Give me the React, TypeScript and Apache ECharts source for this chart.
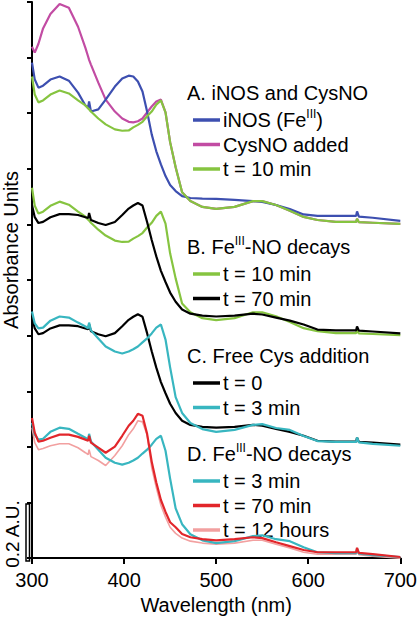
import React, { useEffect, useRef } from "react";
import * as echarts from "echarts";

const WAVELENGTHS = [
  300, 303, 307, 312, 320, 330, 340, 350, 358, 361, 362, 364, 372, 380, 390,
  398, 405, 410, 415, 420, 425, 430, 435, 440, 445, 450, 456, 463, 472, 485,
  500, 520, 540, 550, 565, 580, 595, 610, 630, 650, 652, 653, 655, 670, 700,
];

// Absorbance (A.U.) relative to each panel's own baseline
const INOS_FE3 = [
  0.582, 0.521, 0.492, 0.499, 0.521, 0.532, 0.517, 0.474, 0.428, 0.421, 0.442,
  0.406, 0.414, 0.449, 0.496, 0.525, 0.535, 0.532, 0.514, 0.478, 0.406, 0.324,
  0.263, 0.216, 0.174, 0.142, 0.12, 0.102, 0.095, 0.093, 0.092, 0.088, 0.084,
  0.081, 0.07, 0.055, 0.036, 0.031, 0.031, 0.031, 0.031, 0.047, 0.028, 0.024, 0.013,
];
const CYSNO_ADDED = [
  0.639, 0.618, 0.65, 0.705, 0.757, 0.793, 0.779, 0.711, 0.635, 0.603, 0.592,
  0.575, 0.51, 0.449, 0.406, 0.381, 0.369, 0.367, 0.371, 0.381, 0.403, 0.424,
  0.442, 0.449, 0.403, 0.296, 0.206, 0.116, 0.084, 0.063, 0.056, 0.063, 0.084,
  0.084, 0.07, 0.049, 0.027, 0.016, 0.009, 0.009, 0.009, 0.02, 0.008, 0.006, 0.002,
];
const T10_MIN = [
  0.532, 0.467, 0.439, 0.446, 0.467, 0.482, 0.471, 0.446, 0.428, 0.417, 0.414,
  0.406, 0.381, 0.36, 0.342, 0.337, 0.338, 0.349, 0.358, 0.369, 0.389, 0.406,
  0.431, 0.446, 0.403, 0.296, 0.206, 0.116, 0.084, 0.063, 0.056, 0.063, 0.084,
  0.084, 0.07, 0.049, 0.027, 0.016, 0.009, 0.009, 0.009, 0.02, 0.008, 0.006, 0.002,
];
const T70_MIN_BLACK = [
  0.469, 0.426, 0.405, 0.409, 0.426, 0.437, 0.437, 0.434, 0.426, 0.423, 0.441,
  0.416, 0.405, 0.398, 0.409, 0.434, 0.457, 0.468, 0.477, 0.468, 0.409, 0.344,
  0.285, 0.233, 0.193, 0.155, 0.122, 0.094, 0.079, 0.072, 0.069, 0.072, 0.079,
  0.076, 0.065, 0.054, 0.04, 0.022, 0.019, 0.019, 0.019, 0.033, 0.018, 0.015, 0.008,
];
const T3_MIN = [
  0.487, 0.444, 0.426, 0.429, 0.454, 0.469, 0.465, 0.447, 0.433, 0.426, 0.447,
  0.419, 0.39, 0.361, 0.343, 0.336, 0.343, 0.351, 0.361, 0.376, 0.39, 0.408,
  0.429, 0.44, 0.386, 0.286, 0.179, 0.122, 0.086, 0.064, 0.054, 0.061, 0.079,
  0.082, 0.068, 0.061, 0.039, 0.021, 0.018, 0.018, 0.018, 0.034, 0.016, 0.011, 0.004,
];
const T70_MIN_RED = [
  0.504, 0.451, 0.419, 0.422, 0.433, 0.444, 0.444, 0.436, 0.426, 0.422, 0.44,
  0.415, 0.397, 0.379, 0.401, 0.44, 0.476, 0.494, 0.519, 0.512, 0.447, 0.347,
  0.272, 0.209, 0.166, 0.129, 0.111, 0.087, 0.075, 0.068, 0.064, 0.068, 0.075,
  0.072, 0.057, 0.043, 0.029, 0.021, 0.021, 0.021, 0.021, 0.037, 0.019, 0.014, 0.004,
];
const T12_HOURS = [
  0.469, 0.415, 0.39, 0.394, 0.404, 0.411, 0.411, 0.397, 0.379, 0.372, 0.39,
  0.365, 0.351, 0.333, 0.369, 0.404, 0.444, 0.465, 0.494, 0.49, 0.444, 0.326,
  0.254, 0.19, 0.147, 0.111, 0.089, 0.072, 0.061, 0.054, 0.05, 0.054, 0.064,
  0.064, 0.05, 0.036, 0.021, 0.014, 0.014, 0.014, 0.014, 0.027, 0.012, 0.007, 0.0,
];

// Vertical offsets of the stacked panels (A.U.)
const PANEL_OFFSETS = { A: 1.2, B: 0.8, C: 0.4, D: 0 };

const X_TICKS = { min: 300, max: 700, interval: 100 };
const Y_TICKS = { min: 0, max: 2, interval: 0.2 };

const COLORS = {
  blue: "#3d4fb0",
  magenta: "#c24ca3",
  green: "#86c440",
  black: "#000000",
  cyan: "#38b6c0",
  red: "#e2262b",
  pink: "#f2a0a0",
};

const SERIES_DEFS = [
  { name: "CysNO added", values: CYSNO_ADDED, offset: PANEL_OFFSETS.A, color: COLORS.magenta, width: 2.2 },
  { name: "iNOS (FeIII)", values: INOS_FE3, offset: PANEL_OFFSETS.A, color: COLORS.blue, width: 2.2 },
  { name: "A: t = 10 min", values: T10_MIN, offset: PANEL_OFFSETS.A, color: COLORS.green, width: 2.2 },
  { name: "B: t = 10 min", values: T10_MIN, offset: PANEL_OFFSETS.B, color: COLORS.green, width: 2.2 },
  { name: "B: t = 70 min", values: T70_MIN_BLACK, offset: PANEL_OFFSETS.B, color: COLORS.black, width: 2.2 },
  { name: "C: t = 0", values: T70_MIN_BLACK, offset: PANEL_OFFSETS.C, color: COLORS.black, width: 2.2 },
  { name: "C: t = 3 min", values: T3_MIN, offset: PANEL_OFFSETS.C, color: COLORS.cyan, width: 2.2 },
  { name: "D: t = 12 hours", values: T12_HOURS, offset: PANEL_OFFSETS.D, color: COLORS.pink, width: 1.6 },
  { name: "D: t = 3 min", values: T3_MIN, offset: PANEL_OFFSETS.D, color: COLORS.cyan, width: 2.2 },
  { name: "D: t = 70 min", values: T70_MIN_RED, offset: PANEL_OFFSETS.D, color: COLORS.red, width: 2.2 },
];

// Legend groups (rich text markup: {t|normal} {s|superscript})
const LEGEND_GROUPS = [
  {
    title: "{t|A. iNOS and CysNO}",
    items: [
      { label: "{t|iNOS (Fe}{s|III}{t|)}", color: COLORS.blue },
      { label: "{t|CysNO added}", color: COLORS.magenta },
      { label: "{t|t = 10 min}", color: COLORS.green },
    ],
  },
  {
    title: "{t|B. Fe}{s|III}{t|-NO decays}",
    items: [
      { label: "{t|t = 10 min}", color: COLORS.green },
      { label: "{t|t = 70 min}", color: COLORS.black },
    ],
  },
  {
    title: "{t|C. Free Cys addition}",
    items: [
      { label: "{t|t = 0}", color: COLORS.black },
      { label: "{t|t = 3 min}", color: COLORS.cyan },
    ],
  },
  {
    title: "{t|D. Fe}{s|III}{t|-NO decays}",
    items: [
      { label: "{t|t = 3 min}", color: COLORS.cyan },
      { label: "{t|t = 70 min}", color: COLORS.red },
      { label: "{t|t = 12 hours}", color: COLORS.pink },
    ],
  },
];

const FONT = "'Liberation Sans', Arial, Helvetica, sans-serif";

// layout (pixels)
const LEGEND_TITLE_Y = [93, 247, 356, 454];
const LEGEND_ROW = 24.5;
const LEGEND_TITLE_GAP = 27;

function buildGraphic() {
  const rich = {
    t: { fontSize: 20, fontFamily: FONT, fill: "#000", lineHeight: 24 },
    s: { fontSize: 12, fontFamily: FONT, fill: "#000", lineHeight: 14, verticalAlign: "top" },
  };
  const els: any[] = [];
  LEGEND_GROUPS.forEach((g, gi) => {
    const y0 = LEGEND_TITLE_Y[gi];
    els.push({
      type: "text",
      x: 187,
      y: y0,
      style: { text: g.title, rich, align: "left", verticalAlign: "middle", fill: "#000" },
    });
    g.items.forEach((it, ii) => {
      const y = y0 + LEGEND_TITLE_GAP + ii * LEGEND_ROW;
      els.push({
        type: "line",
        shape: { x1: 193, y1: y, x2: 220, y2: y },
        style: { stroke: it.color, lineWidth: 3.5 },
      });
      els.push({
        type: "text",
        x: 223,
        y: y,
        style: { text: it.label, rich, align: "left", verticalAlign: "middle", fill: "#000" },
      });
    });
  });
  els.push({
    type: "text",
    x: 11,
    y: 250,
    rotation: Math.PI / 2,
    style: {
      text: "Absorbance Units",
      fontSize: 20,
      fontFamily: FONT,
      fill: "#000",
      align: "center",
      verticalAlign: "middle",
    },
  });
  els.push({
    type: "text",
    x: 12.5,
    y: 534,
    rotation: Math.PI / 2,
    style: {
      text: "0.2 A.U.",
      fontSize: 19,
      fontFamily: FONT,
      fill: "#000",
      align: "center",
      verticalAlign: "middle",
    },
  });
  els.push({
    type: "rect",
    shape: { x: 26, y: 504, width: 3.5, height: 57 },
    style: { fill: "none", stroke: "#000", lineWidth: 1.5 },
  });
  return els;
}

export default function App() {
  const ref = useRef<HTMLDivElement>(null);
  useEffect(() => {
    if (!ref.current) return;
    const chart = echarts.init(ref.current, undefined, { renderer: "svg" });
    chart.setOption({
      animation: false,
      backgroundColor: "#fff",
      grid: { left: 32, right: 17, top: 2, bottom: 59 },
      xAxis: {
        type: "value",
        min: X_TICKS.min,
        max: X_TICKS.max,
        interval: X_TICKS.interval,
        name: "Wavelength (nm)",
        nameLocation: "middle",
        nameGap: 33,
        nameTextStyle: { fontSize: 20, fontFamily: FONT, color: "#000" },
        axisLine: { onZero: false, lineStyle: { color: "#000", width: 2 } },
        axisTick: { length: 6, lineStyle: { color: "#000", width: 2 } },
        axisLabel: { fontSize: 20, fontFamily: FONT, color: "#000", margin: 12 },
        splitLine: { show: false },
      },
      yAxis: {
        type: "value",
        min: Y_TICKS.min,
        max: Y_TICKS.max,
        interval: Y_TICKS.interval,
        axisLine: { show: true, onZero: false, lineStyle: { color: "#000", width: 2 } },
        axisTick: { show: true, length: 5, lineStyle: { color: "#000", width: 2 } },
        axisLabel: { show: false },
        splitLine: { show: false },
      },
      series: SERIES_DEFS.map((s) => ({
        type: "line",
        name: s.name,
        showSymbol: false,
        symbol: "none",
        lineStyle: { color: s.color, width: s.width },
        itemStyle: { color: s.color },
        data: WAVELENGTHS.map((w, i) => [w, +(s.values[i] + s.offset).toFixed(3)]),
      })),
      graphic: buildGraphic(),
    });
    return () => chart.dispose();
  }, []);
  return (
    <div
      ref={ref}
      style={{ position: "absolute", left: 0, top: 0, width: 420, height: 620 }}
    />
  );
}
